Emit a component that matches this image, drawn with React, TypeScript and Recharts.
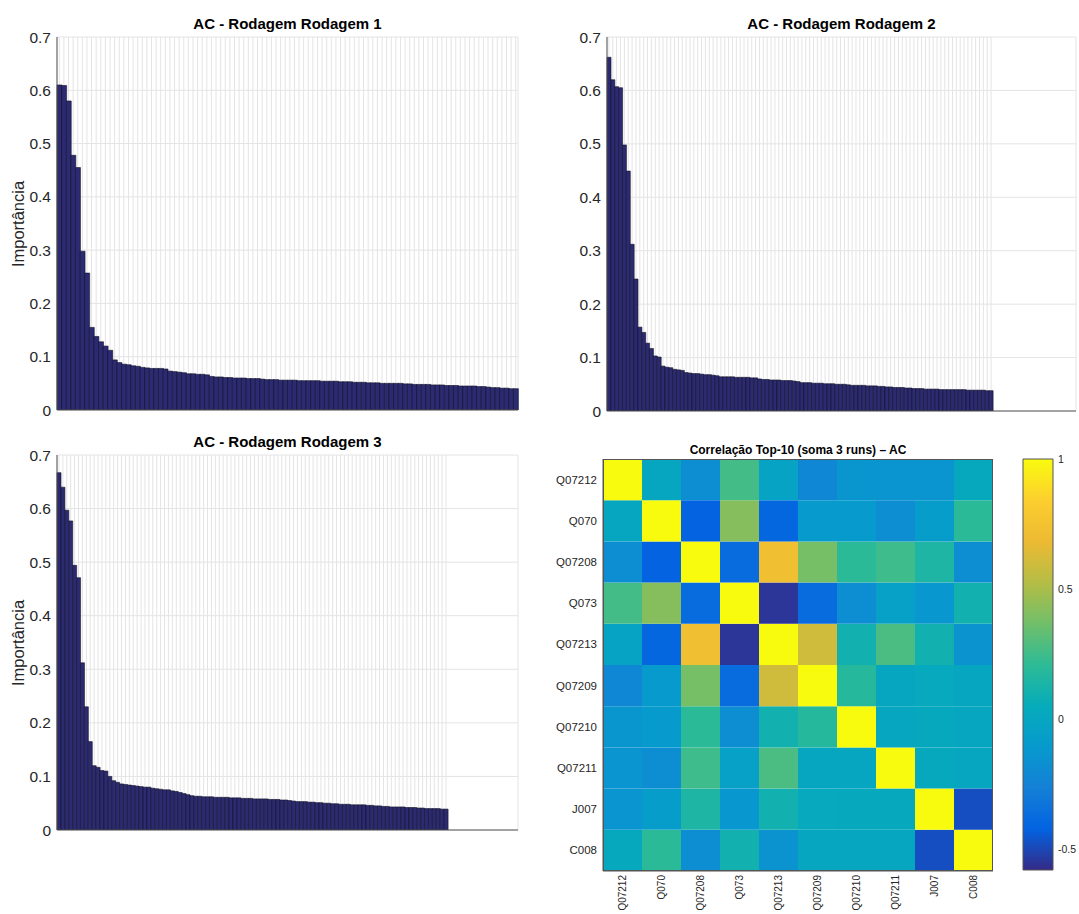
import React from 'react';
import { BarChart, Bar, ComposedChart, ReferenceArea, XAxis, YAxis, CartesianGrid, Cell } from 'recharts';

// feature importance, sorted, one array per run
const run1 = [
  0.610, 0.609, 0.580, 0.478, 0.455, 0.298, 0.257, 0.155, 0.138, 0.128,
  0.120, 0.112, 0.094, 0.089, 0.086, 0.085, 0.083, 0.082, 0.080, 0.079,
  0.078, 0.078, 0.078, 0.077, 0.073, 0.072, 0.071, 0.070, 0.068, 0.068,
  0.067, 0.067, 0.066, 0.063, 0.062, 0.062, 0.061, 0.061, 0.060, 0.060,
  0.060, 0.059, 0.059, 0.059, 0.058, 0.057, 0.057, 0.057, 0.056, 0.056,
  0.056, 0.056, 0.055, 0.055, 0.055, 0.055, 0.055, 0.054, 0.054, 0.054,
  0.054, 0.053, 0.053, 0.053, 0.052, 0.052, 0.052, 0.051, 0.051, 0.051,
  0.050, 0.050, 0.050, 0.050, 0.050, 0.049, 0.049, 0.048, 0.048, 0.048,
  0.048, 0.047, 0.047, 0.047, 0.046, 0.046, 0.046, 0.045, 0.045, 0.045,
  0.045, 0.044, 0.044, 0.043, 0.042, 0.042, 0.041, 0.041, 0.040, 0.040,
];

const run2 = [
  0.662, 0.620, 0.607, 0.605, 0.498, 0.449, 0.312, 0.247, 0.157, 0.147,
  0.127, 0.117, 0.103, 0.101, 0.084, 0.082, 0.081, 0.078, 0.077, 0.076,
  0.072, 0.071, 0.070, 0.070, 0.069, 0.068, 0.068, 0.067, 0.066, 0.064,
  0.064, 0.064, 0.064, 0.063, 0.063, 0.063, 0.063, 0.062, 0.062, 0.060,
  0.059, 0.059, 0.058, 0.058, 0.058, 0.057, 0.057, 0.057, 0.056, 0.055,
  0.053, 0.053, 0.053, 0.052, 0.052, 0.052, 0.051, 0.051, 0.051, 0.050,
  0.050, 0.050, 0.049, 0.048, 0.048, 0.048, 0.048, 0.047, 0.047, 0.047,
  0.046, 0.046, 0.045, 0.045, 0.044, 0.044, 0.044, 0.043, 0.043, 0.042,
  0.042, 0.042, 0.041, 0.041, 0.041, 0.041, 0.040, 0.040, 0.040, 0.040,
  0.040, 0.040, 0.040, 0.039, 0.039, 0.039, 0.039, 0.039, 0.038, 0.038,
];

const run3 = [
  0.667, 0.640, 0.597, 0.577, 0.494, 0.471, 0.312, 0.230, 0.165, 0.120,
  0.117, 0.111, 0.110, 0.100, 0.092, 0.089, 0.086, 0.085, 0.084, 0.083,
  0.082, 0.081, 0.080, 0.080, 0.078, 0.077, 0.076, 0.075, 0.075, 0.073,
  0.072, 0.070, 0.068, 0.066, 0.064, 0.063, 0.063, 0.062, 0.062, 0.062,
  0.061, 0.061, 0.061, 0.061, 0.060, 0.060, 0.060, 0.059, 0.059, 0.059,
  0.058, 0.058, 0.058, 0.058, 0.057, 0.057, 0.057, 0.056, 0.056, 0.055,
  0.054, 0.053, 0.053, 0.053, 0.052, 0.052, 0.051, 0.051, 0.050, 0.050,
  0.049, 0.049, 0.048, 0.048, 0.048, 0.047, 0.047, 0.047, 0.047, 0.046,
  0.046, 0.045, 0.045, 0.044, 0.044, 0.043, 0.043, 0.043, 0.043, 0.042,
  0.042, 0.042, 0.041, 0.041, 0.040, 0.040, 0.040, 0.040, 0.039, 0.039,
];

const importanceTicks = [0, 0.1, 0.2, 0.3, 0.4, 0.5, 0.6, 0.7];

// correlation of the top-10 features (rows top to bottom, cols left to right)
const corrLabels = ['Q07212', 'Q070', 'Q07208', 'Q073', 'Q07213', 'Q07209', 'Q07210', 'Q07211', 'J007', 'C008'];
const corrMatrix = [
  [1.00, 0.00, -0.18, 0.26, -0.03, -0.22, -0.13, -0.14, -0.14, 0.02],
  [0.00, 1.00, -0.42, 0.42, -0.40, -0.10, -0.10, -0.18, -0.08, 0.20],
  [-0.18, -0.42, 1.00, -0.38, 0.72, 0.38, 0.20, 0.25, 0.15, -0.18],
  [0.26, 0.42, -0.38, 1.00, -0.55, -0.38, -0.18, -0.05, -0.12, 0.10],
  [-0.03, -0.40, 0.72, -0.55, 1.00, 0.60, 0.10, 0.28, 0.10, -0.15],
  [-0.22, -0.10, 0.38, -0.38, 0.60, 1.00, 0.18, 0.00, 0.03, 0.00],
  [-0.13, -0.10, 0.20, -0.18, 0.10, 0.18, 1.00, 0.00, 0.02, 0.00],
  [-0.14, -0.18, 0.25, -0.05, 0.28, 0.00, 0.00, 1.00, 0.02, 0.00],
  [-0.14, -0.08, 0.15, -0.12, 0.10, 0.03, 0.02, 0.02, 1.00, -0.48],
  [0.02, 0.20, -0.18, 0.10, -0.15, 0.00, 0.00, 0.00, -0.48, 1.00],
];
const cbMin = -0.58;
const cbMax = 1;
const cbTicks = [-0.5, 0, 0.5, 1];

// old MATLAB parula, sampled
const parula: [number, number[]][] = [
  [0.0, [53, 42, 135]],
  [0.1, [3, 99, 225]],
  [0.2, [20, 128, 214]],
  [0.3, [7, 154, 206]],
  [0.4, [6, 172, 186]],
  [0.5, [46, 187, 150]],
  [0.6, [113, 191, 105]],
  [0.7, [181, 189, 69]],
  [0.8, [237, 186, 51]],
  [0.9, [252, 207, 46]],
  [1.0, [249, 251, 14]],
];

function parulaAt(t: number) {
  const c = Math.max(0, Math.min(1, t));
  for (let i = 1; i < parula.length; i++) {
    const [t1, a] = parula[i - 1];
    const [t2, b] = parula[i];
    if (c <= t2) {
      const f = (c - t1) / (t2 - t1);
      const rgb = a.map((v, k) => Math.round(v + (b[k] - v) * f));
      return `rgb(${rgb[0]},${rgb[1]},${rgb[2]})`;
    }
  }
  return 'rgb(249,251,14)';
}

const corrColor = (v: number) => parulaAt((v - cbMin) / (cbMax - cbMin));

const FONT = '"Liberation Sans", Arial, Helvetica, sans-serif';
const AXIS = '#555';
const TXT = '#262626';
const BAR_FILL = '#2c2a70';
const BAR_EDGE = '#14142a';
const noLabel = () => '';

interface ImportanceProps {
  values: number[];
  title: string;
  showYLabel: boolean;
  left: number;
  top: number;
  width: number;
  height: number;
  plotLeft: number;
  plotTop: number;
  plotW: number;
  plotH: number;
  padRight: number;
}

function ImportanceChart(p: ImportanceProps) {
  const rows = p.values.map((v, i) => ({ idx: i + 1, v }));
  const yAxisW = 30;
  return (
    <div style={{ position: 'absolute', left: p.left, top: p.top, width: p.width, height: p.height }}>
      <div
        style={{
          position: 'absolute', left: p.plotLeft, width: p.plotW, top: p.plotTop - 22,
          textAlign: 'center', fontWeight: 'bold', fontSize: 15, color: '#000',
        }}
      >
        {p.title}
      </div>
      {p.showYLabel && (
        <div
          style={{
            position: 'absolute', left: 18, top: p.plotTop + p.plotH / 2, width: 0, height: 0,
          }}
        >
          <div
            style={{
              position: 'absolute', transform: 'translate(-50%, -50%) rotate(-90deg)',
              whiteSpace: 'nowrap', fontSize: 16.5, color: TXT,
            }}
          >
            Importância
          </div>
        </div>
      )}
      <BarChart
        width={p.width}
        height={p.height}
        data={rows}
        margin={{ top: p.plotTop, left: p.plotLeft - yAxisW, right: p.width - p.plotLeft - p.plotW, bottom: 0 }}
        barCategoryGap={0}
        barGap={0}
      >
        <CartesianGrid stroke="#e4e4e4" strokeWidth={1} />
        <XAxis
          dataKey="idx"
          height={p.height - p.plotTop - p.plotH}
          interval={0}
          tickFormatter={noLabel}
          tickLine={false}
          axisLine={{ stroke: AXIS }}
          padding={{ left: 0, right: p.padRight }}
        />
        <XAxis
          xAxisId="top"
          orientation="top"
          dataKey="idx"
          height={0}
          interval={0}
          mirror
          tickSize={3}
          tickFormatter={noLabel}
          tickLine={{ stroke: '#888' }}
          axisLine={{ stroke: AXIS }}
          padding={{ left: 0, right: p.padRight }}
        />
        <YAxis
          width={yAxisW}
          domain={[0, 0.7]}
          ticks={importanceTicks}
          tickFormatter={(v: number) => (v === 0 ? '0' : String(v))}
          tick={{ fontSize: 15.5, fill: TXT, fontFamily: FONT }}
          tickLine={false}
          tickSize={0}
          tickMargin={6}
          axisLine={{ stroke: AXIS }}
          allowDataOverflow
        />
        <YAxis
          yAxisId="right"
          orientation="right"
          width={0}
          mirror
          domain={[0, 0.7]}
          ticks={importanceTicks}
          tickSize={5}
          tickFormatter={noLabel}
          tickLine={{ stroke: AXIS }}
          axisLine={{ stroke: AXIS }}
          allowDataOverflow
        />
        <Bar dataKey="v" fill={BAR_FILL} stroke={BAR_EDGE} strokeWidth={0.6} isAnimationActive={false} />
      </BarChart>
    </div>
  );
}

function CorrTick(props: any) {
  const { x, y, payload } = props;
  const ty = y + 4;
  return (
    <text
      x={x}
      y={ty}
      transform={`rotate(-90, ${x}, ${ty})`}
      textAnchor="end"
      dominantBaseline="central"
      fontSize={10}
      fill={TXT}
      fontFamily={FONT}
    >
      {payload.value}
    </text>
  );
}

function CorrHeatmap() {
  // each column stacked from the bottom row (C008) up to the top row (Q07212)
  const rowKeys = corrLabels.map((_, k) => `r${k}`);
  const cols = corrLabels.map((name) => {
    const row: Record<string, any> = { name };
    rowKeys.forEach((key) => { row[key] = 1; });
    return row;
  });
  const rowTicks = corrLabels.map((_, k) => k + 0.5);
  const W = 539;
  const H = 474;
  const plotLeft = 63;
  const plotTop = 19;
  const plotW = 390;
  const plotH = 412;
  return (
    <div style={{ position: 'absolute', left: 540, top: 440, width: W, height: H }}>
      <div
        style={{
          position: 'absolute', left: plotLeft, width: plotW, top: 3,
          textAlign: 'center', fontWeight: 'bold', fontSize: 12, color: '#000',
        }}
      >
        Correlação Top-10 (soma 3 runs) – AC
      </div>
      <BarChart
        width={W}
        height={H}
        data={cols}
        margin={{ top: plotTop, left: plotLeft - 55, right: W - plotLeft - plotW, bottom: 0 }}
        barCategoryGap={0}
        barGap={0}
      >
        <XAxis
          dataKey="name"
          height={H - plotTop - plotH}
          interval={0}
          tick={<CorrTick />}
          tickLine={false}
          tickSize={0}
          tickMargin={0}
          axisLine={{ stroke: AXIS }}
        />
        <YAxis
          type="number"
          width={55}
          domain={[0, 10]}
          ticks={rowTicks}
          tickFormatter={(v: number) => corrLabels[9 - Math.floor(v)]}
          tick={{ fontSize: 11.5, fill: TXT, fontFamily: FONT }}
          tickLine={false}
          tickSize={0}
          tickMargin={6}
          axisLine={{ stroke: AXIS }}
        />
        {rowKeys.map((key, k) => {
          const r = 9 - k;
          return (
            <Bar key={key} dataKey={key} stackId="cells" isAnimationActive={false}>
              {corrLabels.map((_, c) => (
                <Cell key={c} fill={corrColor(corrMatrix[r][c])} />
              ))}
            </Bar>
          );
        })}
      </BarChart>
      <div
        style={{
          position: 'absolute', left: plotLeft, top: plotTop, width: plotW, height: plotH,
          border: `1px solid ${AXIS}`, boxSizing: 'border-box', pointerEvents: 'none',
        }}
      />
    </div>
  );
}

function ColorBar() {
  const W = 79;
  const H = 474;
  return (
    <div style={{ position: 'absolute', left: 1000, top: 440, width: W, height: H }}>
      <ComposedChart
        width={W}
        height={H}
        data={[{ k: 'cb' }]}
        margin={{ top: 19, left: 23, right: 0, bottom: 44 }}
      >
        <defs>
          <linearGradient id="parulaGrad" x1="0" y1="1" x2="0" y2="0">
            {parula.map(([t, rgb]) => (
              <stop key={t} offset={t} stopColor={`rgb(${rgb[0]},${rgb[1]},${rgb[2]})`} />
            ))}
          </linearGradient>
        </defs>
        <XAxis dataKey="k" hide />
        <YAxis
          orientation="right"
          width={26}
          domain={[cbMin, cbMax]}
          ticks={cbTicks}
          tickFormatter={(v: number) => String(v)}
          tick={{ fontSize: 10.5, fill: TXT, fontFamily: FONT }}
          tickLine={false}
          tickSize={0}
          tickMargin={5}
          axisLine={false}
          allowDataOverflow
        />
        <ReferenceArea y1={cbMin} y2={cbMax} fill="url(#parulaGrad)" fillOpacity={1} stroke={AXIS} ifOverflow="visible" />
      </ComposedChart>
    </div>
  );
}

export default function App() {
  return (
    <div
      style={{
        position: 'absolute', left: 0, top: 0, width: 1079, height: 914,
        background: '#fff', fontFamily: FONT, overflow: 'hidden',
      }}
    >
      <ImportanceChart
        values={run1} title="AC - Rodagem Rodagem 1" showYLabel
        left={0} top={0} width={540} height={430}
        plotLeft={57} plotTop={37} plotW={461} plotH={373} padRight={0}
      />
      <ImportanceChart
        values={run2} title="AC - Rodagem Rodagem 2" showYLabel={false}
        left={540} top={0} width={539} height={430}
        plotLeft={67} plotTop={37} plotW={469} plotH={374} padRight={83}
      />
      <ImportanceChart
        values={run3} title="AC - Rodagem Rodagem 3" showYLabel
        left={0} top={430} width={540} height={420}
        plotLeft={57} plotTop={25} plotW={461} plotH={375} padRight={70}
      />
      <CorrHeatmap />
      <ColorBar />
    </div>
  );
}
